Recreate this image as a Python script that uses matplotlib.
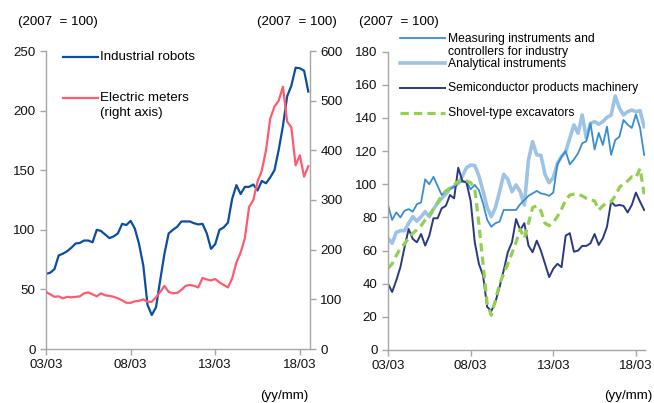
import matplotlib
matplotlib.use("Agg")
import matplotlib.pyplot as plt
from matplotlib.lines import Line2D
import numpy as np

plt.rcParams['font.family'] = ['Liberation Sans', 'DejaVu Sans']

# ---- data (quarterly, 2003/03 .. 2018/09) ----
tick_labels = ["03/03", "08/03", "13/03", "18/03"]
tick_pos = [0, 20, 40, 60]

industrial_robots = [63, 64, 67, 78.5, 80, 82, 85, 88.5, 89, 91, 91, 89.5, 100, 99, 96, 93,
                     94.5, 97, 105, 104, 107.5, 101, 88, 70, 37, 28.5, 35, 58, 80, 97, 100, 102.5,
                     107, 107, 107, 105.5, 104.5, 105, 97, 84, 88, 100, 102, 106, 126, 137.5, 130, 136,
                     136, 138, 133, 141, 139, 144, 150, 167, 187, 212, 221, 236, 235.5, 233.5, 216]

electric_meters = [115, 110, 105, 106, 102, 105, 104, 105, 106, 112, 114, 110, 106, 112, 108, 107,
                   105, 102, 98, 93, 93, 96, 97, 100, 95, 95, 104, 115, 127, 115, 112, 113,
                   119, 127, 129, 127, 124, 143, 140, 138, 141, 134, 129, 124, 142, 174, 194, 223,
                   286, 300, 337, 359, 400, 464, 488, 500, 528, 458, 446, 370, 390, 347, 368]

measuring = [87.5, 78.5, 83, 80, 84, 85, 83.5, 88, 89, 103, 100, 104.5, 99, 93.5, 96, 97,
             98.6, 101, 101.6, 101.6, 97, 99.6, 96.5, 88.5, 78.5, 74.4, 76.5, 77.4, 84.5, 84.5, 84.5, 84.5,
             88, 90.5, 93, 94.5, 96, 94.5, 94, 93, 95, 112, 116.7, 120, 112, 115, 118.7, 124.7,
             126, 136.8, 121, 131, 123.7, 134.8, 117.7, 126.7, 128.7, 138.8, 136, 134, 142.2, 134, 117.7]

analytical = [67.4, 64.4, 71, 72, 72, 76.5, 80.4, 77.8, 80.4, 83.5, 80.4, 85, 88.5, 91.5, 94, 97.6,
              98.6, 100.5, 105, 110, 111.6, 111.3, 105, 96, 86, 80.4, 86, 95.5, 106, 103, 95.5, 99.6,
              95.5, 87.5, 114.7, 125.7, 117.7, 117.5, 106, 101, 104, 112.7, 116.7, 119.7, 127.8, 135.8, 130.8, 141.8,
              127.8, 136.8, 137.8, 136.2, 137.8, 140.4, 141.8, 153.3, 146, 141.8, 143.8, 144.8, 143.8, 144.4, 134.8]

semiconductor = [40, 35, 42, 50, 62, 73, 67, 65, 70, 63, 69, 79.5, 79.5, 85.5, 87, 93.5,
                 91.5, 110, 102, 101, 90, 65, 52, 45, 26, 23.5, 29, 38, 48, 59, 65, 79,
                 72.4, 76.5, 63, 59, 66, 60, 52, 44, 49, 52, 50, 69, 70.5, 59.3, 60, 62.8,
                 62.8, 64.4, 70, 63.4, 67.4, 74.4, 89.5, 87, 87.5, 87, 83, 87.5, 95, 89.5, 84.5]

excavators = [49.3, 52, 57, 61.4, 64, 67.5, 70.5, 72.5, 75, 78.5, 81.5, 85, 89, 93, 96, 97.5,
              99.5, 101.8, 102.2, 102, 101, 97, 76, 52, 28, 21, 30, 40, 46, 52, 58.4, 65,
              72.8, 67.4, 76.5, 86, 87, 84, 76.5, 75, 77, 80.5, 85, 90.5, 93.5, 94, 94, 93,
              91.5, 90.5, 90, 84.5, 87, 89, 89.5, 93, 98, 100.5, 102, 104.5, 104, 109.5, 94]

x = np.arange(len(industrial_robots))

W, H = 654, 403
fig = plt.figure(figsize=(W / 100, H / 100), dpi=100)

def fx(px):
    return px / W

def fy(py):
    return 1 - py / H

grey = "#a6a6a6"
fs = 9.6
fs_leg2 = 8.7

def style_axis(ax):
    for s in ["top", "right"]:
        ax.spines[s].set_visible(False)
    for s in ["left", "bottom"]:
        ax.spines[s].set_color(grey)
        ax.spines[s].set_linewidth(1.0)
    ax.tick_params(axis="both", direction="out", length=4, width=1.0, color=grey,
                   labelsize=fs, labelcolor="#111111")
    ax.set_xticks(tick_pos)
    ax.set_xticklabels(tick_labels)
    ax.set_xlim(0, 62.4)

# ---- left panel ----
axL = fig.add_axes([fx(46), fy(349), fx(310) - fx(46), fy(51) - fy(349)])
style_axis(axL)
axL.set_ylim(0, 250)
axL.set_yticks(np.arange(0, 251, 50))
axL.plot(x, industrial_robots, color="#0b4ea2", lw=1.6, solid_joinstyle="round")

axR = axL.twinx()
for s in ["top", "left", "bottom"]:
    axR.spines[s].set_visible(False)
axR.spines["right"].set_color(grey)
axR.spines["right"].set_linewidth(1.0)
axR.tick_params(axis="y", direction="out", length=4, width=1.0, color=grey,
                labelsize=fs, labelcolor="#111111")
axR.set_ylim(0, 600)
axR.set_yticks(np.arange(0, 601, 100))
axR.plot(x, electric_meters, color="#ff5b6e", lw=1.6, solid_joinstyle="round")
axR.set_xlim(0, 62.4)

# ---- right panel ----
ax2 = fig.add_axes([fx(388), fy(350), fx(645) - fx(388), fy(51.7) - fy(350)])
style_axis(ax2)
ax2.set_xlim(0, 62.2)
ax2.set_ylim(0, 180)
ax2.set_yticks(np.arange(0, 181, 20))
ax2.plot(x, analytical, color="#9dc3e6", lw=2.6, solid_joinstyle="round")
ax2.plot(x, measuring, color="#3a8dd0", lw=1.3, solid_joinstyle="round")
ax2.plot(x, semiconductor, color="#2b3a7e", lw=1.4, solid_joinstyle="round")
ax2.plot(x, excavators, color="#92d050", lw=2.3, linestyle=(0, (2.6, 1.6)))

# ---- annotations ----
fig.text(fx(58), fy(22), "(2007  = 100)", ha="center", va="center", fontsize=fs)
fig.text(fx(297), fy(22), "(2007  = 100)", ha="center", va="center", fontsize=fs)
fig.text(fx(399), fy(22), "(2007  = 100)", ha="center", va="center", fontsize=fs)
fig.text(fx(284), fy(396), "(yy/mm)", ha="center", va="center", fontsize=fs)
fig.text(fx(628), fy(396), "(yy/mm)", ha="center", va="center", fontsize=fs)

# ---- legends (manual) ----
def key(x0, x1, y, **kw):
    fig.add_artist(Line2D([fx(x0), fx(x1)], [fy(y), fy(y)], transform=fig.transFigure, **kw))

key(63, 98, 57, color="#0b4ea2", lw=1.6)
fig.text(fx(100), fy(57), "Industrial robots", ha="left", va="center", fontsize=fs)
key(63, 98, 98, color="#ff5b6e", lw=1.6)
fig.text(fx(100), fy(98), "Electric meters", ha="left", va="center", fontsize=fs)
fig.text(fx(100), fy(113), "(right axis)", ha="left", va="center", fontsize=fs)

key(400, 445, 38, color="#3a8dd0", lw=1.3)
fig.text(fx(448), fy(39), "Measuring instruments and", ha="left", va="center", fontsize=fs_leg2)
fig.text(fx(448), fy(52), "controllers for industry", ha="left", va="center", fontsize=fs_leg2)
key(400, 445, 63, color="#9dc3e6", lw=2.6)
fig.text(fx(448), fy(64), "Analytical instruments", ha="left", va="center", fontsize=fs_leg2)
key(400, 445, 88, color="#2b3a7e", lw=1.4)
fig.text(fx(448), fy(88), "Semiconductor products machinery", ha="left", va="center", fontsize=fs_leg2)
key(400, 445, 113, color="#92d050", lw=2.3, linestyle=(0, (2.6, 1.6)))
fig.text(fx(448), fy(113), "Shovel-type excavators", ha="left", va="center", fontsize=fs_leg2)

fig.savefig("out.png", dpi=100)
